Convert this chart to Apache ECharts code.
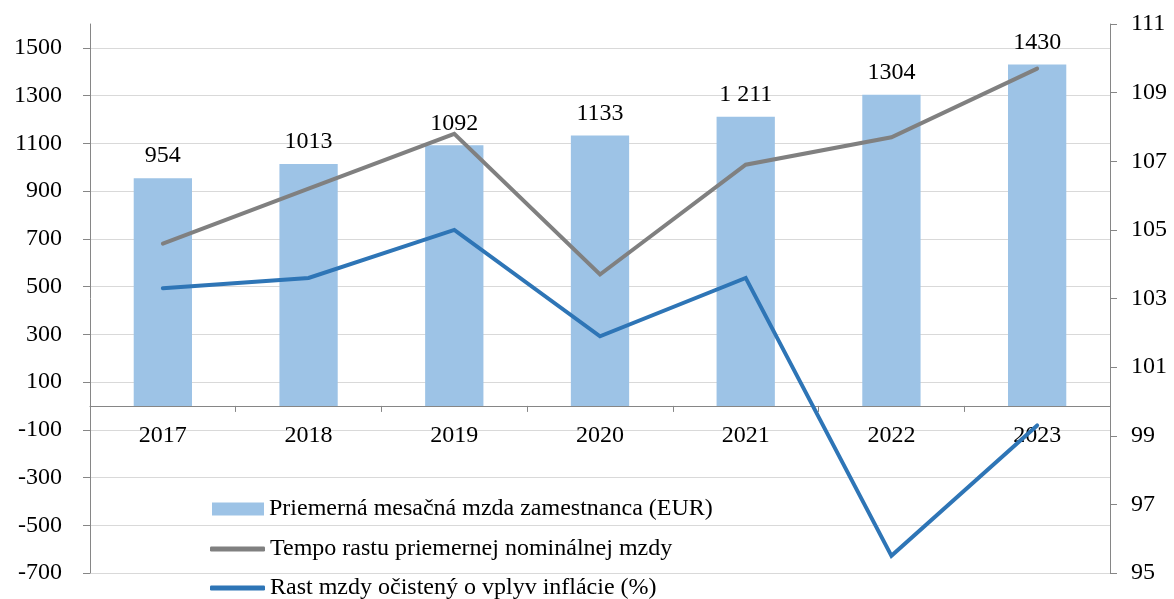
<!DOCTYPE html>
<html>
<head>
<meta charset="utf-8">
<script src="https://cdn.jsdelivr.net/npm/echarts@6/dist/echarts.min.js"></script>
<style>
  html, body { margin: 0; padding: 0; background: #fff; }
  #chart { width: 1174px; height: 599px; }
</style>
</head>
<body>
<div id="chart"></div>
<script>
// Years on the category axis
const years = ['2017', '2018', '2019', '2020', '2021', '2022', '2023'];
// Average monthly wage of an employee (EUR)
const avgWage = [954, 1013, 1092, 1133, 1211, 1304, 1430];
// Printed labels above the bars
const wageLabels = ['954', '1013', '1092', '1133', '1 211', '1304', '1430'];
// Nominal wage growth index (previous year = 100)
const nominalIndex = [104.6, 106.2, 107.8, 103.7, 106.9, 107.7, 109.7];
// Real wage growth index, adjusted for inflation
const realIndex = [103.3, 103.6, 105.0, 101.9, 103.6, 95.5, 99.3];

const seriesNames = [
  'Priemerná mesačná mzda zamestnanca (EUR)',
  'Tempo rastu priemernej nominálnej mzdy',
  'Rast mzdy očistený o vplyv inflácie (%)'
];

const FONT = '"Liberation Serif", "Times New Roman", serif';
const AXIS_COLOR = '#868686';
const GRID_COLOR = '#d9d9d9';
const BAR_COLOR = '#9dc3e6';
const GREY_LINE = '#808080';
const BLUE_LINE = '#2e75b6';

// chart frame
const WIDTH = 1174, HEIGHT = 599;
const GRID = { left: 90, right: 64, top: 24, bottom: 26 };
const LEFT_MIN = -700, LEFT_MAX = 1600, LEFT_STEP = 200;

// the category axis sits on the left axis' zero line
const plotHeight = HEIGHT - GRID.top - GRID.bottom;
const zeroOffset = -plotHeight * (0 - LEFT_MIN) / (LEFT_MAX - LEFT_MIN);

// left-axis split lines: -700 ... 1500 visible, the top edge left blank
const leftSplitColors = [];
for (let v = LEFT_MIN; v < LEFT_MAX; v += LEFT_STEP) leftSplitColors.push(GRID_COLOR);
leftSplitColors.push('rgba(0,0,0,0)');

const textStyle = { fontFamily: FONT, fontSize: 24, color: '#000' };

function legendBlock(name, top, icon, w, h, color) {
  return {
    orient: 'vertical',
    left: icon === 'rect' ? 212 : 210,
    top: top,
    padding: 0,
    itemWidth: w,
    itemHeight: h,
    icon: icon,
    data: [{ name: name, itemStyle: { color: color } }],
    textStyle: textStyle,
    selectedMode: false
  };
}

const chart = echarts.init(document.getElementById('chart'), null, { renderer: 'canvas' });

chart.setOption({
  animation: false,
  backgroundColor: '#fff',
  grid: Object.assign({ containLabel: false, outerBoundsMode: 'none' }, GRID),
  legend: [
    legendBlock(seriesNames[0], 497, 'rect', 52, 13, BAR_COLOR),
    legendBlock(seriesNames[1], 537, 'roundRect', 55, 5, GREY_LINE),
    legendBlock(seriesNames[2], 576, 'roundRect', 55, 5, BLUE_LINE)
  ],
  xAxis: {
    type: 'category',
    data: years,
    boundaryGap: true,
    position: 'bottom',
    offset: zeroOffset,
    axisLine: { onZero: false, lineStyle: { color: AXIS_COLOR, width: 1 } },
    axisTick: { show: true, length: 6, inside: false, lineStyle: { color: AXIS_COLOR } },
    axisLabel: Object.assign({ margin: 18 }, textStyle),
    splitLine: { show: false }
  },
  yAxis: [
    {
      type: 'value',
      min: LEFT_MIN,
      max: LEFT_MAX,
      interval: LEFT_STEP,
      position: 'left',
      axisLine: { show: true, lineStyle: { color: AXIS_COLOR } },
      axisTick: { show: true, length: 7, lineStyle: { color: AXIS_COLOR } },
      axisLabel: Object.assign({ margin: 28, showMaxLabel: false,
        formatter: v => (v > 1500 ? '' : String(v)) }, textStyle),
      splitLine: { show: true, lineStyle: { color: leftSplitColors, width: 1 } }
    },
    {
      type: 'value',
      min: 95,
      max: 111,
      interval: 2,
      position: 'right',
      axisLine: { show: true, lineStyle: { color: AXIS_COLOR } },
      axisTick: { show: true, length: 7, lineStyle: { color: AXIS_COLOR } },
      axisLabel: Object.assign({ margin: 21 }, textStyle),
      splitLine: { show: false }
    }
  ],
  series: [
    {
      name: seriesNames[0],
      type: 'bar',
      yAxisIndex: 0,
      data: avgWage,
      barWidth: '40%',
      itemStyle: { color: BAR_COLOR },
      label: {
        show: true,
        position: 'top',
        distance: 10,
        fontFamily: FONT,
        fontSize: 24,
        color: '#000',
        formatter: p => wageLabels[p.dataIndex]
      },
      z: 2
    },
    {
      name: seriesNames[1],
      type: 'line',
      yAxisIndex: 1,
      data: nominalIndex,
      symbol: 'none',
      lineStyle: { color: GREY_LINE, width: 4, cap: 'round', join: 'miter' },
      itemStyle: { color: GREY_LINE },
      z: 3
    },
    {
      name: seriesNames[2],
      type: 'line',
      yAxisIndex: 1,
      data: realIndex,
      symbol: 'none',
      lineStyle: { color: BLUE_LINE, width: 4, cap: 'round', join: 'miter' },
      itemStyle: { color: BLUE_LINE },
      z: 4
    }
  ]
});
</script>
</body>
</html>
